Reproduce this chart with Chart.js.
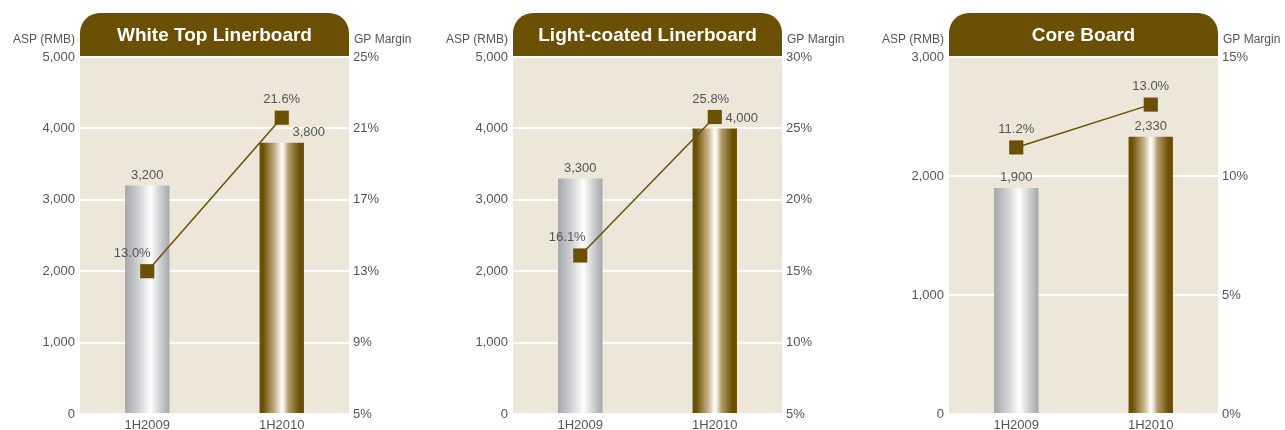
<!DOCTYPE html>
<html>
<head>
<meta charset="utf-8">
<script src="https://cdn.jsdelivr.net/npm/chart.js@4/dist/chart.umd.min.js"></script>
<style>
  html, body { margin: 0; padding: 0; background: #fff; overflow: hidden; }
  #wrap { position: relative; width: 1285px; height: 430px; }
  #wrap canvas { position: absolute; top: 0; }
</style>
</head>
<body>
<div id="wrap">
  <canvas id="c0" width="415" height="430" style="left:0px"></canvas>
  <canvas id="c1" width="415" height="430" style="left:433px"></canvas>
  <canvas id="c2" width="415" height="430" style="left:869px"></canvas>
</div>
<script>
const categories = ['1H2009', '1H2010'];
const panelTitles = ['White Top Linerboard', 'Light-coated Linerboard', 'Core Board'];

const aspWhiteTop = [3200, 3800];
const gpWhiteTop = [13.0, 21.6];
const aspLightCoated = [3300, 4000];
const gpLightCoated = [16.1, 25.8];
const aspCoreBoard = [1900, 2330];
const gpCoreBoard = [11.2, 13.0];

// axis ranges per panel
const aspMax = [5000, 5000, 3000];
const gpMin = [5, 5, 0];
const gpMax = [25, 30, 15];
const gpStep = [4, 5, 5];

const BROWN = '#6b5003';
const BEIGE = '#ede7da';
const TEXT = '#555555';
const FONT = 'Liberation Sans, Arial, Helvetica, sans-serif';
const BAR_PCT = 0.33;

// label nudges (x offset) where labels would collide with the line markers
const barLabelDx = [[0, 27], [0, 27], [0, 0]];
const lineLabelDx = [[-15, 0], [-13, -4], [0, 0]];

const aspData = [aspWhiteTop, aspLightCoated, aspCoreBoard];
const gpData = [gpWhiteTop, gpLightCoated, gpCoreBoard];

function barGradient(c) {
    const chart = c.chart;
    const xs = chart.scales.x;
    if (!chart.chartArea || !xs) return '#aaa';
    const cx = xs.getPixelForValue(c.dataIndex);
    const w = (xs.width / categories.length) * BAR_PCT;
    const g = chart.ctx.createLinearGradient(cx - w / 2, 0, cx + w / 2, 0);
    if (c.dataIndex === 0) {
        g.addColorStop(0, '#a6a7ab');
        g.addColorStop(0.3, '#cfd0d2');
        g.addColorStop(0.57, '#ffffff');
        g.addColorStop(0.8, '#cdced1');
        g.addColorStop(1, '#a6a7ab');
    } else {
        g.addColorStop(0, BROWN);
        g.addColorStop(0.08, BROWN);
        g.addColorStop(0.35, '#c6b288');
        g.addColorStop(0.5, '#ffffff');
        g.addColorStop(0.55, '#f1ebdd');
        g.addColorStop(0.65, '#b49c6c');
        g.addColorStop(0.9, BROWN);
        g.addColorStop(1, BROWN);
    }
    return g;
}

const panelDeco = {
    id: 'panelDeco',
    beforeDraw(chart, args, opts) {
        const { ctx, chartArea: a } = chart;
        ctx.save();
        ctx.fillStyle = BEIGE;
        ctx.fillRect(a.left, a.top, a.right - a.left, a.bottom - a.top);
        // title tab
        const top = 13, r = 20;
        ctx.fillStyle = BROWN;
        ctx.beginPath();
        ctx.moveTo(a.left, a.top);
        ctx.lineTo(a.left, top + r);
        ctx.arcTo(a.left, top, a.left + r, top, r);
        ctx.lineTo(a.right - r, top);
        ctx.arcTo(a.right, top, a.right, top + r, r);
        ctx.lineTo(a.right, a.top);
        ctx.closePath();
        ctx.fill();
        ctx.fillStyle = '#ffffff';
        ctx.font = 'bold 19px ' + FONT;
        ctx.textAlign = 'center';
        ctx.textBaseline = 'middle';
        ctx.fillText(opts.title, (a.left + a.right) / 2, 36);
        // axis titles
        ctx.fillStyle = TEXT;
        ctx.font = '12px ' + FONT;
        ctx.textAlign = 'right';
        ctx.fillText('ASP (RMB)', a.left - 5, 40);
        ctx.textAlign = 'left';
        ctx.fillText('GP Margin', a.right + 5, 40);
        ctx.restore();
    },
    afterDatasetsDraw(chart, args, opts) {
        const { ctx } = chart;
        const p = opts.panel;
        const bars = chart.getDatasetMeta(0).data;
        const pts = chart.getDatasetMeta(1).data;
        ctx.save();
        ctx.fillStyle = TEXT;
        ctx.font = '13px ' + FONT;
        ctx.textAlign = 'center';
        ctx.textBaseline = 'middle';
        bars.forEach((el, i) => {
            ctx.fillText(aspData[p][i].toLocaleString('en-US'), el.x + barLabelDx[p][i], el.y - 10);
        });
        pts.forEach((el, i) => {
            ctx.fillText(gpData[p][i].toFixed(1) + '%', el.x + lineLabelDx[p][i], el.y - 18);
        });
        ctx.restore();
    }
};

panelTitles.forEach((title, p) => {
    const ctx = document.getElementById('c' + p).getContext('2d');
    new Chart(ctx, {
        type: 'bar',
        data: {
            labels: categories,
            datasets: [{
                type: 'bar',
                data: aspData[p],
                yAxisID: 'y',
                backgroundColor: barGradient,
                borderWidth: 0,
                barPercentage: BAR_PCT,
                categoryPercentage: 1,
                order: 2
            }, {
                type: 'line',
                data: gpData[p],
                yAxisID: 'y1',
                borderColor: BROWN,
                borderWidth: 1.5,
                pointStyle: 'rect',
                pointRadius: 10,
                pointBackgroundColor: BROWN,
                pointBorderWidth: 0,
                tension: 0,
                order: 1
            }]
        },
        options: {
            responsive: false,
            animation: false,
            events: [],
            layout: { padding: { top: 57, left: 0, right: 0, bottom: 0 } },
            plugins: {
                legend: { display: false },
                tooltip: { enabled: false },
                panelDeco: { title: title, panel: p }
            },
            scales: {
                x: {
                    grid: { display: false, drawTicks: false },
                    border: { display: false },
                    ticks: { color: TEXT, font: { size: 13, family: FONT }, padding: 4, maxRotation: 0 },
                    afterFit(s) { s.height = 16; }
                },
                y: {
                    position: 'left',
                    min: 0,
                    max: aspMax[p],
                    grid: { color: '#ffffff', lineWidth: 2, drawTicks: false },
                    border: { display: false },
                    ticks: {
                        stepSize: 1000,
                        color: TEXT,
                        font: { size: 13, family: FONT },
                        padding: 5,
                        callback: v => v.toLocaleString('en-US')
                    },
                    afterFit(s) { s.width = 80; }
                },
                y1: {
                    position: 'right',
                    min: gpMin[p],
                    max: gpMax[p],
                    grid: { display: false, drawTicks: false },
                    border: { display: false },
                    ticks: {
                        stepSize: gpStep[p],
                        color: TEXT,
                        font: { size: 13, family: FONT },
                        padding: 4,
                        callback: v => v + '%'
                    },
                    afterFit(s) { s.width = 66; }
                }
            }
        },
        plugins: [panelDeco]
    });
});
</script>
</body>
</html>
